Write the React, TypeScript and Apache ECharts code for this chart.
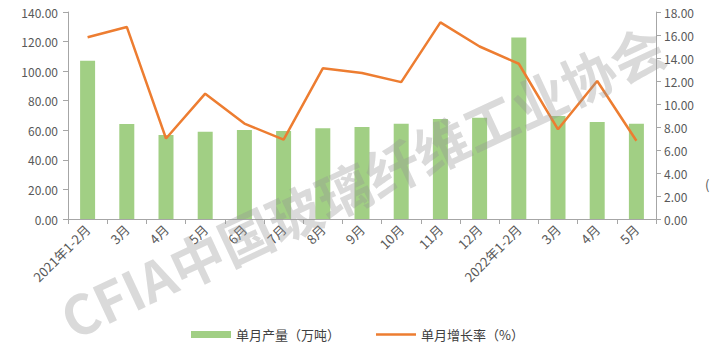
import React, { useEffect, useRef } from "react";
import * as echarts from "echarts";

const categories = ["2021年1-2月", "3月", "4月", "5月", "6月", "7月", "8月", "9月", "10月", "11月", "12月", "2022年1-2月", "3月", "4月", "5月"];
const output = [107, 64.2, 56.8, 59.0, 60.2, 59.5, 61.3, 62.2, 64.4, 67.6, 68.5, 122.8, 69.6, 65.6, 64.4];
const growth = [15.8, 16.7, 7.0, 10.9, 8.3, 6.9, 13.1, 12.7, 11.9, 17.1, 15.0, 13.5, 7.8, 12.0, 6.8];
const leftTicks = { min: 0, max: 140, interval: 20 };
const rightTicks = { min: 0, max: 18, interval: 2 };

const FONT = "'Noto Sans CJK SC', 'Noto Sans', sans-serif";

export default function App() {
  const ref = useRef<HTMLDivElement>(null);
  useEffect(() => {
    if (!ref.current) return;
    const chart = echarts.init(ref.current, undefined, { renderer: "svg" });
    const axisLine = { show: true, lineStyle: { color: "#a6a6a6", width: 1 } };
    chart.setOption({
      animation: false,
      textStyle: { fontFamily: FONT },
      grid: { left: 68, right: 68, top: 12, bottom: 139 },
      legend: {
        bottom: 12,
        left: 186,
        itemGap: 36,
        itemWidth: 40,
        itemHeight: 7,
        symbolKeepAspect: true,
        textStyle: { color: "#404040", fontSize: 13, fontFamily: FONT },
        data: [
          { name: "单月产量（万吨）", icon: "rect" },
          { name: "单月增长率（%）", icon: "path://M0,0 L40,0 L40,2.6 L0,2.6 Z", itemStyle: { color: "#ed7d31" } },
        ],
      },
      xAxis: {
        type: "category",
        data: categories,
        axisLine,
        axisTick: { show: true, alignWithLabel: false, length: 5, lineStyle: { color: "#a6a6a6" } },
        axisLabel: { interval: 0, rotate: 45, color: "#595959", fontSize: 13, margin: 8, fontFamily: FONT },
      },
      yAxis: [
        {
          type: "value",
          ...leftTicks,
          axisLine,
          axisTick: { show: true, length: 5, lineStyle: { color: "#a6a6a6" } },
          splitLine: { show: false },
          axisLabel: { color: "#595959", fontSize: 12, margin: 10, formatter: (v: number) => v.toFixed(2), fontFamily: FONT },
        },
        {
          type: "value",
          ...rightTicks,
          position: "right",
          axisLine,
          axisTick: { show: true, length: 5, lineStyle: { color: "#a6a6a6" } },
          splitLine: { show: false },
          axisLabel: { color: "#595959", fontSize: 12, margin: 8, formatter: (v: number) => v.toFixed(2), fontFamily: FONT },
        },
      ],
      series: [
        {
          name: "单月产量（万吨）",
          type: "bar",
          data: output,
          barWidth: 15,
          itemStyle: { color: "#a1cf84" },
        },
        {
          name: "单月增长率（%）",
          type: "line",
          yAxisIndex: 1,
          data: growth,
          symbol: "none",
          lineStyle: { color: "#ed7d31", width: 2.5 },
          itemStyle: { color: "#ed7d31" },
        },
      ],
      graphic: [
        {
          type: "text",
          x: 705,
          y: 178,
          style: { text: "(", fontSize: 13, fill: "#595959", fontFamily: FONT },
        },
        {
          type: "text",
          x: 362,
          y: 180,
          rotation: (25 * Math.PI) / 180,
          z: 100,
          style: {
            text: "CFIA中国玻璃纤维工业协会",
            fontSize: 54,
            fontWeight: "bold",
            fill: "rgba(150,150,150,0.35)",
            align: "center",
            verticalAlign: "middle",
            fontFamily: FONT,
          },
        },
      ],
    });
    return () => chart.dispose();
  }, []);
  return <div ref={ref} style={{ width: 724, height: 358, position: "absolute", left: 0, top: 0 }} />;
}
